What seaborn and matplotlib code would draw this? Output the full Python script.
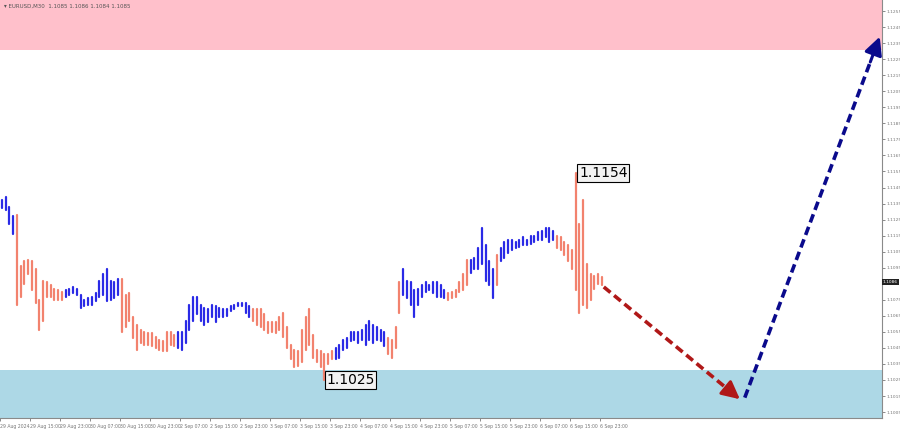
import numpy as np
import pandas as pd
import seaborn as sns
import matplotlib.pyplot as plt
import matplotlib.transforms as mtransforms

# --- data (one entry per bar) ---
bar_high = [
    1.1137, 1.1139, 1.1133, 1.1127, 1.1128, 1.1096, 1.1099, 1.1100, 1.1099, 1.1094,
    1.1075, 1.1087, 1.1086, 1.1084, 1.1082, 1.1081, 1.1080, 1.1081, 1.1082, 1.1083,
    1.1082, 1.1078, 1.1075, 1.1076, 1.1077, 1.1079, 1.1087, 1.1091, 1.1094, 1.1087,
    1.1086, 1.1088, 1.1088, 1.1078, 1.1079, 1.1064, 1.1059, 1.1056, 1.1055, 1.1054,
    1.1054, 1.1052, 1.1050, 1.1049, 1.1055, 1.1055, 1.1053, 1.1055, 1.1055, 1.1062,
    1.1072, 1.1077, 1.1077, 1.1072, 1.1070, 1.1069, 1.1072, 1.1071, 1.1070, 1.1069,
    1.1069, 1.1071, 1.1072, 1.1073, 1.1073, 1.1073, 1.1071, 1.1069, 1.1069, 1.1069,
    1.1066, 1.1061, 1.1061, 1.1061, 1.1064, 1.1067, 1.1058, 1.1047, 1.1044, 1.1043,
    1.1056, 1.1064, 1.1069, 1.1053, 1.1044, 1.1043, 1.1041, 1.1041, 1.1043, 1.1045,
    1.1047, 1.1050, 1.1051, 1.1055, 1.1055, 1.1055, 1.1056, 1.1059, 1.1062, 1.1059,
    1.1058, 1.1056, 1.1055, 1.1051, 1.1050, 1.1058, 1.1086, 1.1094, 1.1087, 1.1086,
    1.1081, 1.1082, 1.1084, 1.1086, 1.1084, 1.1086, 1.1086, 1.1084, 1.1081, 1.1079,
    1.1080, 1.1081, 1.1086, 1.1091, 1.1100, 1.1100, 1.1101, 1.1107, 1.1120, 1.1109,
    1.1099, 1.1094, 1.1103, 1.1107, 1.1111, 1.1112, 1.1112, 1.1111, 1.1112, 1.1114,
    1.1112, 1.1115, 1.1115, 1.1117, 1.1118, 1.1120, 1.1120, 1.1118, 1.1115, 1.1114,
    1.1111, 1.1109, 1.1106, 1.1154, 1.1122, 1.1137, 1.1097, 1.1091, 1.1090, 1.1091,
    1.1089,
]
bar_low = [
    1.1132, 1.1131, 1.1122, 1.1116, 1.1072, 1.1077, 1.1085, 1.1091, 1.1081, 1.1073,
    1.1056, 1.1062, 1.1077, 1.1077, 1.1075, 1.1075, 1.1075, 1.1077, 1.1078, 1.1079,
    1.1078, 1.1070, 1.1071, 1.1072, 1.1072, 1.1074, 1.1077, 1.1078, 1.1074, 1.1075,
    1.1076, 1.1078, 1.1055, 1.1058, 1.1062, 1.1051, 1.1044, 1.1048, 1.1047, 1.1047,
    1.1046, 1.1045, 1.1044, 1.1043, 1.1043, 1.1047, 1.1046, 1.1045, 1.1044, 1.1048,
    1.1056, 1.1062, 1.1066, 1.1062, 1.1059, 1.1061, 1.1064, 1.1061, 1.1064, 1.1064,
    1.1065, 1.1068, 1.1069, 1.1071, 1.1071, 1.1067, 1.1064, 1.1062, 1.1059, 1.1058,
    1.1056, 1.1054, 1.1055, 1.1054, 1.1056, 1.1052, 1.1045, 1.1038, 1.1033, 1.1034,
    1.1036, 1.1044, 1.1047, 1.1039, 1.1036, 1.1033, 1.1025, 1.1035, 1.1038, 1.1038,
    1.1039, 1.1044, 1.1045, 1.1049, 1.1050, 1.1048, 1.1050, 1.1047, 1.1050, 1.1048,
    1.1050, 1.1049, 1.1046, 1.1041, 1.1039, 1.1045, 1.1067, 1.1078, 1.1076, 1.1072,
    1.1064, 1.1072, 1.1077, 1.1080, 1.1081, 1.1079, 1.1077, 1.1077, 1.1076, 1.1075,
    1.1076, 1.1077, 1.1080, 1.1081, 1.1084, 1.1092, 1.1094, 1.1094, 1.1097, 1.1087,
    1.1084, 1.1076, 1.1084, 1.1099, 1.1101, 1.1104, 1.1106, 1.1107, 1.1108, 1.1109,
    1.1109, 1.1110, 1.1111, 1.1112, 1.1112, 1.1114, 1.1111, 1.1112, 1.1107, 1.1106,
    1.1103, 1.1099, 1.1094, 1.1081, 1.1067, 1.1072, 1.1070, 1.1075, 1.1082, 1.1085,
    1.1084,
]

# bar index where each coloured wave segment starts, and its direction
wave_starts = [0, 4, 17, 32, 47, 67, 89, 103, 107, 119, 125, 132, 133, 148]
wave_dirs = ["up", "down", "up", "down", "up", "down", "up",
             "down", "up", "down", "up", "down", "up", "down"]

time_labels = ["29 Aug 2024", "29 Aug 15:00", "29 Aug 23:00", "30 Aug 07:00",
               "30 Aug 15:00", "30 Aug 23:00", "2 Sep 07:00", "2 Sep 15:00",
               "2 Sep 23:00", "3 Sep 07:00", "3 Sep 15:00", "3 Sep 23:00",
               "4 Sep 07:00", "4 Sep 15:00", "4 Sep 23:00", "5 Sep 07:00",
               "5 Sep 15:00", "5 Sep 23:00", "6 Sep 07:00", "6 Sep 15:00",
               "6 Sep 23:00"]
bars_per_label = 8

price_ticks = [1.1005, 1.1015, 1.1025, 1.1035, 1.1045, 1.1055, 1.1065, 1.1075,
               1.1085, 1.1095, 1.1105, 1.1115, 1.1125, 1.1135, 1.1145, 1.1155,
               1.1165, 1.1175, 1.1185, 1.1195, 1.1205, 1.1215, 1.1225, 1.1235,
               1.1245, 1.1255]

resistance_zone = (1.1231, 1.1275)
support_zone = (1.0990, 1.1031)
forecast_down = [(160.5, 1.1083), (196.8, 1.1013)]
forecast_up = [(198.1, 1.1014), (234.1, 1.1239)]
marked_high = (153, 1.1154)
marked_low = (86, 1.1025)
last_price = 1.1086
header = "\u25be EURUSD,M30  1.1085 1.1086 1.1084 1.1085"

# --- long form table: each bar is a two point vertical line ---
trend = []
for i in range(len(bar_high)):
    seg = max(k for k, s in enumerate(wave_starts) if s <= i)
    trend.append(wave_dirs[seg])

df = pd.DataFrame({
    "bar": list(range(len(bar_high))) * 2,
    "price": bar_high + bar_low,
    "trend": trend * 2,
})

sns.set_theme(style="white")
plt.rcParams["font.family"] = ["DejaVu Sans"]

fig = plt.figure(figsize=(9, 4.3), dpi=100)
ax = fig.add_axes([0, 12 / 430, 882 / 900, 418 / 430])

ax.axhspan(*resistance_zone, color="pink", lw=0, zorder=0)
ax.axhspan(*support_zone, color="lightblue", lw=0, zorder=0)

sns.lineplot(data=df, x="bar", y="price", units="bar", estimator=None,
             hue="trend", palette={"up": "#2a2ae6", "down": "#f2826e"},
             sort=False, legend=False, linewidth=1.6, ax=ax)

# forecast arrows
for pts, col in [(forecast_down, "#b01818"), (forecast_up, "#0a0a8c")]:
    (x0, y0), (x1, y1) = pts
    fx, fy = x0 + 0.93 * (x1 - x0), y0 + 0.93 * (y1 - y0)
    ax.plot([x0, fx], [y0, fy], color=col, lw=2.6, ls=(0, (2.4, 1.3)),
            solid_capstyle="butt", dash_capstyle="butt")
    ax.annotate("", xy=(x1, y1), xytext=(fx, fy),
                arrowprops=dict(arrowstyle="-|>,head_length=0.9,head_width=0.45",
                                color=col, lw=2.2, shrinkA=0, shrinkB=0))

box = dict(boxstyle="square,pad=0.12", fc="#f2f2f2", ec="black", lw=0.8)
ax.text(marked_high[0] + 0.9, marked_high[1], f"{marked_high[1]:.4f}",
        ha="left", va="center", fontsize=10, color="black", bbox=box)
ax.text(marked_low[0] + 0.5, marked_low[1], f"{marked_low[1]:.4f}",
        ha="left", va="center", fontsize=10, color="black", bbox=box)

ax.set_xlim(-0.53, 234.7)
ax.set_ylim(1.10013, 1.12619)

ax.yaxis.tick_right()
ax.set_yticks(price_ticks)
# the last-price box sits over the nearest tick, so that label stays blank
ax.set_yticklabels(["" if abs(v - last_price) < 0.0005 else f"{v:.4f}"
                    for v in price_ticks])
ax.set_xticks([bars_per_label * k - 0.5 for k in range(len(time_labels))])
ax.set_xticklabels(time_labels)
for lab in ax.get_xticklabels():
    lab.set_ha("left")
ax.tick_params(axis="x", labelsize=3.3, colors="#777777", length=2.5,
               width=0.6, pad=1.5, direction="out", bottom=True)
ax.tick_params(axis="y", labelsize=3.2, colors="#777777", length=2,
               width=0.6, pad=1, direction="out", right=True, left=False)
ax.set_xlabel("")
ax.set_ylabel("")

for side in ["top", "left"]:
    ax.spines[side].set_visible(False)
for side in ["right", "bottom"]:
    ax.spines[side].set_color("#8a8a8a")
    ax.spines[side].set_linewidth(0.8)

trans = mtransforms.blended_transform_factory(ax.transAxes, ax.transData)
ax.text(1.001, last_price, f"{last_price:.4f}", transform=trans, ha="left",
        va="center", fontsize=3.2, color="white",
        bbox=dict(boxstyle="square,pad=0.2", fc="#222222", ec="none"))

fig.text(0.004, 0.992, header, fontsize=4, color="#555555", ha="left", va="top")

fig.savefig("out.png", dpi=100)
